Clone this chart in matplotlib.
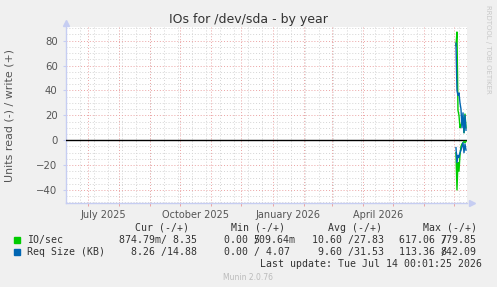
import numpy as np
import matplotlib.pyplot as plt
import matplotlib.dates as mdates
from datetime import datetime, timedelta

W, H = 497, 287

# daily averages, only the last days of the year have data
days = [datetime(2026, 7, d) for d in range(3, 14)]
io_write = [76, 87, 24, 20, 10, 12, 15, 18, 6, 21, 10]
io_read = [-10, -40, -18, -25, -12, -5, -3, -2, -1, -2, -1]
req_write = [78, 40, 36, 38, 30, 25, 10, 22, 6, 20, 8]
req_read = [-6, -18, -12, -14, -10, -8, -5, -2, -10, -3, -8]

month_labels = ["July 2025", "October 2025", "January 2026", "April 2026"]
label_dates = [datetime(2025, 7, 16), datetime(2025, 10, 16), datetime(2026, 1, 16), datetime(2026, 4, 16)]
y_ticks = [-40, -20, 0, 20, 40, 60, 80]

legend_names = ["IO/sec", "Req Size (KB)"]
legend_colors = ["#00cc00", "#0066b3"]
headers = ["Cur (-/+)", "Min (-/+)", "Avg (-/+)", "Max (-/+)"]
cur_vals = ["874.79m/ 8.35", "8.26 /14.88"]
# second part is drawn over the "/" like rrdtool does
min_vals = [("0.00 /", "509.64m"), ("0.00 / 4.07", "")]
avg_vals = ["10.60 /27.83", "9.60 /31.53"]
max_vals = [("617.06 /", "779.85"), ("113.36 /", "842.09")]

def px(x, y):
	return x/W, 1-y/H

def main():
	fig=plt.figure(figsize=(W/100, H/100), dpi=100, facecolor="#f0f0f0")
	l, b=px(66, 203)
	r, t=px(467, 27)
	ax=fig.add_axes([l, b, r-l, t-b])
	ax.set_facecolor("white")

	x0=datetime(2025, 6, 9)
	x1=datetime(2026, 7, 14, 0, 1)
	ax.set_xlim(x0, x1)
	ax.set_ylim(-50.5, 91)

	# grid: gray every 5 / 14 days, red every 20 / month
	dot=(0, (1, 2))
	for v in np.arange(-50, 91, 5):
		if v%20!=0:
			ax.axhline(v, color="#d4d4d4", lw=0.7, ls=dot, zorder=0)
	d=datetime(2025, 6, 23)
	while d<x1:
		ax.axvline(d, color="#d4d4d4", lw=0.7, ls=dot, zorder=0)
		d+=timedelta(days=14)
	for v in y_ticks:
		ax.axhline(v, color="#eba3a3", lw=0.7, ls=dot, zorder=1)
	months=[datetime(2025+(m-1)//12, (m-1)%12+1, 1) for m in range(7, 20)]
	for m in months:
		ax.axvline(m, color="#eba3a3", lw=0.7, ls=dot, zorder=1)

	ax.axhline(0, color="black", lw=1, zorder=3)

	ax.plot(days, io_write, color=legend_colors[0], lw=1, zorder=4)
	ax.plot(days, io_read, color=legend_colors[0], lw=1, zorder=4)
	ax.plot(days, req_write, color=legend_colors[1], lw=1, zorder=5)
	ax.plot(days, req_read, color=legend_colors[1], lw=1, zorder=5)

	for s in ["top", "right"]:
		ax.spines[s].set_visible(False)
	for s in ["left", "bottom"]:
		ax.spines[s].set_color("#c6cdf2")
		ax.spines[s].set_linewidth(1)
	ax.set_xticks(label_dates)
	ax.set_xticklabels(month_labels)
	ax.set_xticks(months, minor=True)
	ax.set_yticks(y_ticks)
	ax.tick_params(axis="x", which="major", length=0, labelsize=7, labelcolor="#555555", pad=5)
	ax.tick_params(axis="x", which="minor", length=2, color="#eba3a3", width=0.7)
	ax.tick_params(axis="y", length=2, color="#c6cdf2", labelsize=7.3, labelcolor="#555555", pad=4)

	# axis arrows
	ax.plot([1.012], [0], marker=">", ms=4, color="#c6cdf2", transform=ax.transAxes, clip_on=False)
	ax.plot([0], [1.025], marker="^", ms=4, color="#c6cdf2", transform=ax.transAxes, clip_on=False)

	fig.text(*px(248, 19), "IOs for /dev/sda - by year", ha="center", va="center", fontsize=9, color="#333333")
	fig.text(*px(10, 115), "Units read (-) / write (+)", rotation=90, ha="center", va="center", fontsize=7.9, color="#555555")
	fig.text(*px(488, 5), "RRDTOOL / TOBI OETIKER", rotation=270, ha="center", va="top", fontsize=5, color="#c8c8c8")

	mono=dict(family="DejaVu Sans Mono", fontsize=7.12, color="#333333", va="center")
	cw=5.95
	hx=[135, 230.7, 328, 422.7]
	for i in range(4):
		fig.text(*px(hx[i], 228), headers[i], ha="left", **mono)
	for i in range(2):
		y=240+12*i
		fig.patches.append(plt.Rectangle(px(14, y+3), 6/W, 6/H, color=legend_colors[i], transform=fig.transFigure))
		fig.text(*px(26.7, y), legend_names[i], ha="left", **mono)
		fig.text(*px(197, y), cur_vals[i], ha="right", **mono)
		fig.text(*px(224, y), min_vals[i][0], ha="left", **mono)
		if min_vals[i][1]:
			fig.text(*px(224+5*cw, y), min_vals[i][1], ha="left", **mono)
		fig.text(*px(383.5, y), avg_vals[i], ha="right", **mono)
		fig.text(*px(399, y), max_vals[i][0], ha="left", **mono)
		fig.text(*px(399+7*cw, y), max_vals[i][1], ha="left", **mono)
	fig.text(*px(482.3, 264), "Last update: Tue Jul 14 00:01:25 2026", ha="right", **mono)
	fig.text(*px(248, 277), "Munin 2.0.76", ha="center", va="center", fontsize=5.5, color="#bbbbbb")

	plt.savefig("out.png", dpi=100, facecolor=fig.get_facecolor())
	plt.close(fig)

if __name__=="__main__":
	main()
